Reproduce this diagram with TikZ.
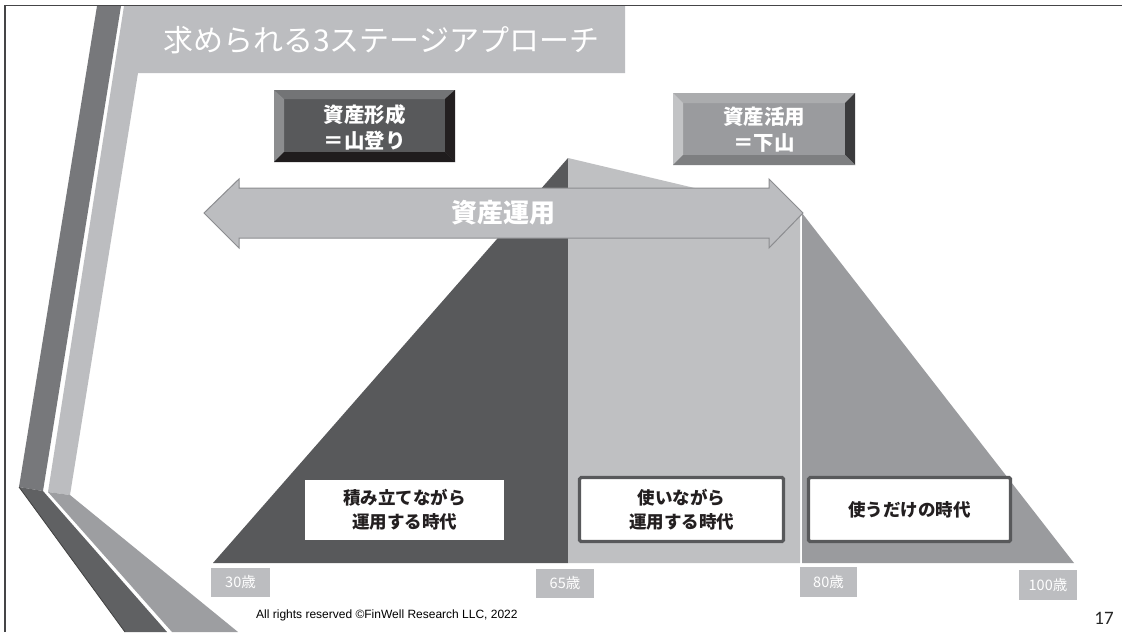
\documentclass[tikz,border=0pt]{standalone}
\usepackage{fontspec}
\newfontfamily\jp{Noto Sans CJK JP}
\newfontfamily\lsans{Liberation Sans}
\newfontfamily\carl{Carlito}
\definecolor{bandDark}{HTML}{77787B}
\definecolor{bandLight}{HTML}{BCBDC0}
\definecolor{lowDark}{HTML}{606163}
\definecolor{lowLight}{HTML}{9D9EA1}
\definecolor{mDark}{HTML}{58595B}
\definecolor{mLight}{HTML}{BFC0C2}
\definecolor{mMed}{HTML}{9A9B9E}
\definecolor{arrowLine}{HTML}{8C8D90}
\definecolor{txtDark}{HTML}{231F20}
\definecolor{frameCol}{HTML}{454547}
\definecolor{bevAtop}{HTML}{737476}
\definecolor{bevAleft}{HTML}{8C8D8F}
\definecolor{bevAright}{HTML}{231F20}
\definecolor{bevAbot}{HTML}{1F1C1D}
\definecolor{bevBtop}{HTML}{ABACAE}
\definecolor{bevBleft}{HTML}{C2C3C5}
\definecolor{bevBright}{HTML}{3B3B3D}
\definecolor{bevBbot}{HTML}{7E7F81}
\begin{document}
\begin{tikzpicture}[x=1pt,y=-1pt,
  agebox/.style={fill=bandLight, text=white, inner sep=0pt, font=\jp\fontsize{14.5}{16}\selectfont},
  eraplain/.style={fill=white, inner sep=0pt, align=center, text=txtDark, font=\jp\bfseries\fontsize{17.5}{24}\selectfont},
  eraframe/.style={eraplain, draw=mDark, line width=3.2pt, rounded corners=1.5pt},
  bevtext/.style={text=white, align=center, font=\jp\bfseries\fontsize{20.5}{26}\selectfont},
]
\useasboundingbox (0,0) rectangle (1122,632);
\fill[white] (0,0) rectangle (1122,632);
% left decorative bands
\fill[bandLight] (124,6) -- (625,6) -- (625,73) -- (138,73) -- (70,495) -- (48,492) -- cycle;
\fill[bandDark] (97,6) -- (121,6) -- (43,491) -- (19,487) -- cycle;
\fill[lowDark] (19,487) -- (43,491) -- (167,632) -- (125,632) -- cycle;
\draw[black!75, line width=0.8pt] (19,487) -- (125,632);
\fill[lowLight] (48,492) -- (70,495) -- (238,632) -- (172,632) -- cycle;
% slide frame
\draw[frameCol, line width=1.3pt] (5,632) -- (5,5.5) -- (1122,5.5);
% title
\node[anchor=west, text=white, inner sep=0pt, font=\jp\fontsize{30}{32}\selectfont] (title) at (163,40) {求められる3ステージアプローチ};
% mountain
\fill[mDark] (213,563) -- (568,158) -- (568,563) -- cycle;
\fill[mLight] (568,158) -- (800,213) -- (800,563) -- (568,563) -- cycle;
\fill[mMed] (802,213) -- (1074,563) -- (802,563) -- cycle;
% double arrow
\draw[arrowLine, line width=1pt, fill=bandLight, line join=miter] (204,213) -- (239,179) -- (239,188) -- (769,188) -- (769,179) -- (803,213) -- (769,248) -- (769,238) -- (239,238) -- (239,248) -- cycle;
\node[text=white, inner sep=0pt, font=\jp\bfseries\fontsize{26}{28}\selectfont] (unyou) at (503,213) {資産運用};
% bevel box 1
\fill[mDark] (274,90) rectangle (455,162);
\fill[bevAtop] (274,90) -- (455,90) -- (445,99) -- (284,99) -- cycle;
\fill[bevAleft] (274,90) -- (284,99) -- (284,152) -- (274,162) -- cycle;
\fill[bevAright] (455,90) -- (455,162) -- (445,152) -- (445,99) -- cycle;
\fill[bevAbot] (274,162) -- (455,162) -- (445,152) -- (284,152) -- cycle;
\node[bevtext] (keisei) at (364.5,127) {資産形成\\＝山登り};
% bevel box 2
\fill[mMed] (673,93) rectangle (855,165);
\fill[bevBtop] (673,93) -- (855,93) -- (845,103) -- (683,103) -- cycle;
\fill[bevBleft] (673,93) -- (683,103) -- (683,155) -- (673,165) -- cycle;
\fill[bevBright] (855,93) -- (855,165) -- (845,155) -- (845,103) -- cycle;
\fill[bevBbot] (673,165) -- (855,165) -- (845,155) -- (683,155) -- cycle;
\node[bevtext] (katsuyou) at (764,130) {資産活用\\＝下山};
% era boxes
\node[eraplain, minimum width=199pt, minimum height=60pt] (era1) at (404.5,510) {積み立てながら\\運用する時代};
\node[eraframe, minimum width=204pt, minimum height=64pt] (era2) at (681.5,509.5) {使いながら\\運用する時代};
\node[eraframe, minimum width=202pt, minimum height=64pt] (era3) at (909.5,509.5) {使うだけの時代};
% ages
\node[agebox, minimum width=59pt, minimum height=29pt] (a30) at (240.5,582) {30歳};
\node[agebox, minimum width=58pt, minimum height=29pt] (a65) at (565,583.5) {65歳};
\node[agebox, minimum width=57pt, minimum height=30pt] (a80) at (828.5,582) {80歳};
\node[agebox, minimum width=58pt, minimum height=30pt] (a100) at (1048,585) {100歳};
% footer
\node[anchor=west, inner sep=0pt, text=black, font=\lsans\fontsize{12}{14}\selectfont] (foot) at (256,615) {All rights reserved ©FinWell Research LLC, 2022};
\node[inner sep=0pt, text=black!85, font=\carl\fontsize{19}{21}\selectfont] (pnum) at (1104,618) {17};
\end{tikzpicture}
\end{document}
